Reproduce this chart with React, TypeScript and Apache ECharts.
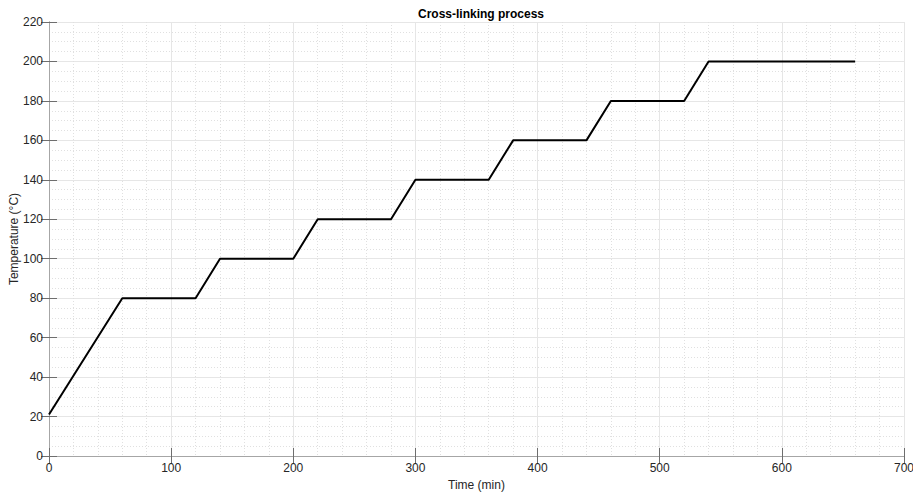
import React, { useEffect, useRef } from "react";
import * as echarts from "echarts";

const timeMin = [0, 60, 120, 140, 200, 220, 280, 300, 360, 380, 440, 460, 520, 540, 660];
const tempC = [21, 80, 80, 100, 100, 120, 120, 140, 140, 160, 160, 180, 180, 200, 200];
const titleText = "Cross-linking process";
const xName = "Time (min)";
const yName = "Temperature (°C)";

export default function App() {
  const ref = useRef<HTMLDivElement>(null);
  useEffect(() => {
    const chart = echarts.init(ref.current!, null, { renderer: "svg" });
    const font = "Liberation Sans, Arial, Helvetica, sans-serif";
    const axisGray = "#a6a6a6";
    const label = { color: "#262626", fontSize: 12, fontFamily: font };
    const split = { show: true, lineStyle: { color: "#e6e6e6", width: 1 } };
    const minorSplit = { show: true, lineStyle: { color: "#e0e0e0", width: 1, type: [1, 2] as any } };
    chart.setOption({
      animation: false,
      backgroundColor: "#ffffff",
      title: {
        text: titleText,
        left: 476,
        textAlign: "center",
        top: 3,
        textStyle: { fontSize: 12, fontWeight: "bold", color: "#000", fontFamily: font },
      },
      grid: { left: 49, right: 9, top: 22, bottom: 37, containLabel: false, outerBoundsMode: "none" },
      xAxis: [
        {
          type: "value",
          min: 0,
          max: 700,
          interval: 100,
          name: xName,
          nameLocation: "middle",
          nameGap: 23,
          nameMoveOverlap: false,
          nameTextStyle: { color: "#262626", fontSize: 12, fontFamily: font },
          axisLine: { show: true, lineStyle: { color: axisGray, width: 1 } },
          axisTick: { show: true, inside: true, length: 8, lineStyle: { color: "#6e6e6e" } },
          axisLabel: { ...label, margin: 6 },
          splitLine: split,
          minorTick: { show: false, splitNumber: 5 },
          minorSplitLine: minorSplit,
        },
        {
          type: "value",
          position: "top",
          min: 0,
          max: 700,
          interval: 100,
          axisLine: { show: true, lineStyle: { color: axisGray, width: 1 } },
          axisTick: { show: true, inside: true, length: 8, lineStyle: { color: "#6e6e6e" } },
          axisLabel: { show: false },
          splitLine: { show: false },
        },
      ],
      yAxis: [
        {
          type: "value",
          min: 0,
          max: 220,
          interval: 20,
          name: yName,
          nameLocation: "middle",
          nameGap: 29,
          nameMoveOverlap: false,
          nameTextStyle: { color: "#262626", fontSize: 12, fontFamily: font },
          axisLine: { show: true, lineStyle: { color: axisGray, width: 1 } },
          axisTick: { show: true, inside: true, length: 8, lineStyle: { color: "#6e6e6e" } },
          axisLabel: { ...label, margin: 6 },
          splitLine: split,
          minorTick: { show: false, splitNumber: 4 },
          minorSplitLine: minorSplit,
        },
        {
          type: "value",
          position: "right",
          min: 0,
          max: 220,
          interval: 20,
          axisLine: { show: true, lineStyle: { color: axisGray, width: 1 } },
          axisTick: { show: true, inside: true, length: 8, lineStyle: { color: "#6e6e6e" } },
          axisLabel: { show: false },
          splitLine: { show: false },
        },
      ],
      series: [
        {
          type: "line",
          data: timeMin.map((t, i) => [t, tempC[i]]),
          showSymbol: false,
          symbol: "none",
          lineStyle: { color: "#000000", width: 2 },
          z: 5,
        },
      ],
    });
    return () => chart.dispose();
  }, []);
  return <div ref={ref} style={{ width: 913, height: 493, position: "absolute", left: 0, top: 0 }} />;
}
